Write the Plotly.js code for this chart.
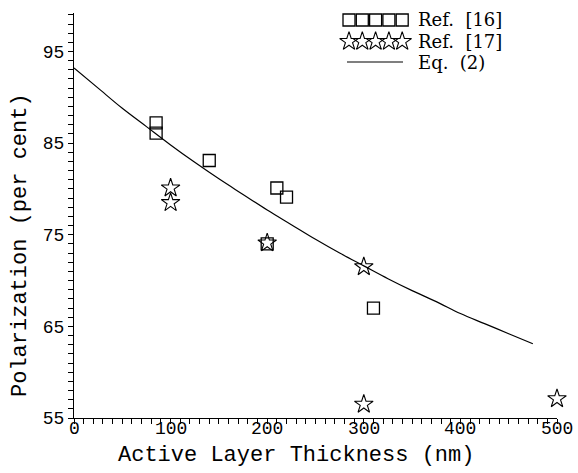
<!DOCTYPE html>
<html>
<head>
<meta charset="utf-8">
<script src="https://cdn.plot.ly/plotly-3.0.1.min.js"></script>
<style>
  html, body { margin: 0; padding: 0; background: #fff; }
  #chart { width: 578px; height: 473px; }
</style>
</head>
<body>
<div id="chart"></div>
<script>
// Ref. [16] (open squares)
const ref16X = [85, 85, 140, 200, 210, 220, 310];
const ref16Y = [87.2, 86.1, 83.1, 74.0, 80.1, 79.1, 67.0];
// Ref. [17] (open stars)
const ref17X = [100, 100, 200, 300, 300, 500];
const ref17Y = [80.1, 78.5, 74.1, 71.5, 56.5, 57.1];
// Eq. (2) curve
const eqX = [0, 25, 50, 75, 100, 125, 150, 175, 200, 225, 250, 275, 300, 325, 350, 375, 400, 425, 450, 475];
const eqY = [93.2, 91.0, 88.8, 86.8, 84.8, 82.9, 81.1, 79.4, 77.7, 76.1, 74.5, 73.0, 71.6, 70.2, 68.9, 67.7, 66.4, 65.3, 64.2, 63.1];
// axis ticks
const xTicks = [0, 100, 200, 300, 400, 500];
const yTicks = [55, 65, 75, 85, 95];
// legend labels
const legendLabels = ['Ref.\u00A0\u00A0[16]', 'Ref.\u00A0\u00A0[17]', 'Eq.\u00A0\u00A0(2)'];

const mono = "Liberation Mono, Courier New, monospace";
const serif = "DejaVu Serif, Liberation Serif, serif";

// plot frame in pixels
const PL = 74, PR = 557, PT = 13, PB = 418;
const H = PB - PT, W = PR - PL;
// legend key layout (pixel frame of an invisible overlay axis)
const keySlots = [0, 1, 2, 3, 4];
const keyX0 = 349, keyStep = 13.3;
const rowY = [20, 41.5, 62];
const keyXs = keySlots.map(i => keyX0 + i * keyStep);

const traces = [
  { x: eqX, y: eqY, mode: 'lines', line: { color: '#000', width: 1.2, shape: 'spline' }, name: 'Eq. (2)', hoverinfo: 'skip' },
  { x: ref16X, y: ref16Y, mode: 'markers', name: 'Ref. [16]', cliponaxis: false,
    marker: { symbol: 'square-open', size: 12, color: '#000', line: { width: 1.3, color: '#000' } } },
  { x: ref17X, y: ref17Y, mode: 'markers', name: 'Ref. [17]', cliponaxis: false,
    marker: { symbol: 'star-open', size: 14, color: '#000', line: { width: 1.1, color: '#000' } } },
  // legend keys
  { x: keyXs, y: keyXs.map(() => rowY[0]), xaxis: 'x2', yaxis: 'y2', mode: 'markers', hoverinfo: 'skip',
    marker: { symbol: 'square-open', size: 12, color: '#000', line: { width: 1.3, color: '#000' } } },
  { x: keyXs, y: keyXs.map(() => rowY[1]), xaxis: 'x2', yaxis: 'y2', mode: 'markers', hoverinfo: 'skip',
    marker: { symbol: 'star-open', size: 14, color: '#000', line: { width: 1.1, color: '#000' } } },
  { x: [347, 403], y: [rowY[2], rowY[2]], xaxis: 'x2', yaxis: 'y2', mode: 'lines', hoverinfo: 'skip',
    line: { color: '#000', width: 1.2 } }
];

const hidden = { visible: false, fixedrange: true, showgrid: false, zeroline: false };

const xTickLabels = xTicks.map(v => ({
  text: String(v), xref: 'x', yref: 'paper', x: v, y: -(429 - PB) / H,
  xanchor: 'center', yanchor: 'middle', showarrow: false, font: { family: mono, size: 18, color: '#000' }
}));

const layout = {
  width: 578, height: 473,
  margin: { l: PL, r: 578 - PR, t: PT, b: 473 - PB, pad: 0 },
  paper_bgcolor: '#fff', plot_bgcolor: '#fff',
  showlegend: false,
  font: { family: mono, color: '#000' },
  xaxis: {
    range: [0, 500], tickvals: xTicks, showticklabels: false,
    showgrid: false, zeroline: false, showline: true, linecolor: '#000', linewidth: 1,
    ticks: 'outside', ticklen: 5, tickcolor: '#000', tickwidth: 1,
    minor: { dtick: 10, ticks: 'outside', ticklen: 5, tickcolor: '#000', tickwidth: 1, showgrid: false },
    fixedrange: true
  },
  yaxis: {
    range: [55, 99.2], tickvals: yTicks, ticktext: yTicks.map(String),
    showgrid: false, zeroline: false, showline: true, linecolor: '#000', linewidth: 1,
    ticks: 'outside', ticklen: 5, tickcolor: '#000', tickwidth: 1,
    tickfont: { family: mono, size: 18, color: '#000' },
    minor: { dtick: 1, ticks: 'outside', ticklen: 5, tickcolor: '#000', tickwidth: 1, showgrid: false },
    fixedrange: true
  },
  xaxis2: Object.assign({ overlaying: 'x', range: [PL, PR] }, hidden),
  yaxis2: Object.assign({ overlaying: 'y', range: [PB, PT] }, hidden),
  annotations: [
    { text: 'Active Layer Thickness (nm)', xref: 'paper', yref: 'paper', x: (296 - PL) / W, y: -(455 - PB) / H,
      xanchor: 'center', yanchor: 'middle', showarrow: false, font: { family: mono, size: 22, color: '#000' } },
    { text: 'Polarization (per cent)', xref: 'paper', yref: 'paper', x: (20 - PL) / W, y: (PB - 245) / H,
      xanchor: 'center', yanchor: 'middle', textangle: -90, showarrow: false, font: { family: mono, size: 22, color: '#000' } }
  ].concat(xTickLabels).concat(legendLabels.map((t, i) => ({
    text: t, xref: 'paper', yref: 'paper', x: (416 - PL) / W, y: (PB - rowY[i]) / H,
    xanchor: 'left', yanchor: 'middle', showarrow: false, font: { family: serif, size: 18, color: '#000' }
  })))
};

Plotly.newPlot('chart', traces, layout, { displayModeBar: false, staticPlot: true });
</script>
</body>
</html>
